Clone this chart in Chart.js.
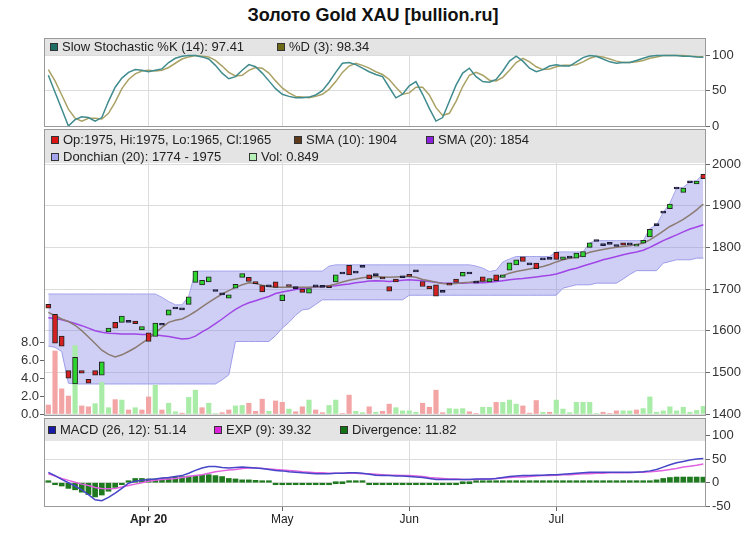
<!DOCTYPE html>
<html>
<head>
<meta charset="utf-8">
<script src="https://cdn.jsdelivr.net/npm/chart.js@4.4.0/dist/chart.umd.min.js"></script>
<style>
  body { margin: 0; background: #fff; width: 746px; height: 535px; overflow: hidden; position: relative; }
  #title { position: absolute; left: 0; top: 4px; width: 746px; text-align: center;
           font: bold 18px "Liberation Sans", Arial, sans-serif; color: #111; line-height: 22px; }
  canvas { position: absolute; left: 0; pointer-events: none; }
</style>
</head>
<body>
<div id="title">Золото Gold XAU [bullion.ru]</div>
<canvas id="stoch" width="746" height="117" style="top:24px"></canvas>
<canvas id="price" width="746" height="315" style="top:115px"></canvas>
<canvas id="macd" width="746" height="131" style="top:404px"></canvas>
<script>
// x axis: one slot per trading day (index 0..98), month gridlines
const monthTickIdx = [15, 35, 54, 76];
const monthTickLabels = ['Apr 20', 'May', 'Jun', 'Jul'];

// Candles
const opens = [1663,1639,1587,1504,1472,1504,1483,1504,1493,1597,1620,1620,1620,1623,1602,1595,1586,1613,1637,1652,
  1650,1663,1716,1710,1717,1694,1686,1678,1702,1728,1728,1717,1708,1705,1717,1672,1708,1701,1700,1690,
  1705,1704,1707,1717,1736,1757,1738,1752,1734,1732,1726,1706,1724,1727,1735,1741,1718,1707,1710,1692,
  1714,1724,1731,1736,1714,1729,1717,1734,1728,1745,1758,1777,1758,1762,1770,1771,1788,1771,1774,1774,
  1777,1800,1814,1804,1807,1802,1811,1806,1803,1810,1825,1852,1882,1893,1940,1932,1955,1952,1975];
const closes = [1654,1570,1563,1486,1536,1498,1474,1493,1525,1606,1606,1635,1620,1617,1610,1574,1618,1613,1650,1652,
  1650,1681,1743,1721,1729,1694,1686,1686,1711,1737,1718,1713,1693,1705,1704,1686,1706,1701,1692,1701,
  1705,1704,1703,1734,1736,1734,1738,1752,1724,1732,1724,1695,1717,1727,1730,1741,1706,1700,1683,1692,
  1709,1716,1740,1736,1714,1718,1725,1720,1734,1763,1770,1766,1758,1749,1770,1771,1771,1777,1774,1786,
  1790,1811,1814,1804,1807,1802,1805,1806,1807,1817,1843,1852,1882,1904,1940,1942,1955,1959,1965];

// Volume (left axis) and its colour flag (1 = up)
const volumes = [1.0,7.0,2.8,2.0,7.6,0.9,0.8,1.15,3.5,0.7,1.6,1.55,0.45,0.7,0.45,1.9,3.2,0.45,1.2,0.25,
  0.1,1.85,2.65,0.7,1.2,0.05,0.15,0.45,0.9,0.95,1.2,0.3,1.65,0.3,1.45,1.3,0.55,0.25,0.8,1.55,
  0.45,0.15,0.95,1.55,0.05,2.1,0.3,0.15,0.8,0.2,0.3,1.1,0.7,0.35,0.35,0.2,1.2,0.75,2.65,0.15,
  0.6,0.55,0.6,0.25,0.05,0.75,0.75,1.3,1.3,1.55,1.1,0.9,0.1,1.5,0.2,0.2,1.55,0.55,0.15,1.3,
  1.3,1.3,0.05,0.2,0.05,0.35,0.35,0.35,0.45,0.6,1.9,0.2,0.35,0.8,0.35,0.75,0.2,0.4,0.85];
const volUp = [0,0,0,0,1,0,0,1,1,1,0,1,0,1,0,0,1,0,1,1, 0,1,1,0,1,1,0,0,1,1,0,0,0,1,0,0,1,0,0,1,
  0,0,1,1,0,0,1,1,0,1,0,0,1,1,1,1,0,0,0,0, 1,1,1,0,0,1,1,0,1,1,1,0,0,0,1,0,1,1,1,1,
  1,1,1,0,0,0,1,1,0,1,1,1,1,1,1,1,1,1,1];

// Donchian (20)
const donUpper = [1688,1688,1688,1688,1688,1688,1688,1688,1688,1688,1688,1688,1688,1688,1688,1688,1688,1680,1670,1662,
  1662,1682,1743,1743,1743,1743,1743,1743,1743,1743,1743,1743,1743,1743,1743,1743,1743,1743,1743,1743,
  1743,1743,1755,1758,1758,1758,1758,1758,1758,1758,1758,1758,1758,1758,1758,1758,1758,1758,1758,1758,
  1758,1758,1758,1758,1755,1750,1742,1745,1765,1772,1778,1778,1778,1778,1778,1778,1789,1789,1789,1789,
  1789,1811,1816,1816,1816,1816,1816,1816,1816,1816,1845,1853,1884,1906,1942,1944,1957,1960,1976];
const donLower = [1563,1560,1550,1474,1472,1472,1472,1472,1472,1472,1472,1472,1472,1472,1472,1472,1472,1472,1472,1472,
  1472,1472,1472,1472,1472,1472,1482,1494,1574,1574,1574,1574,1574,1574,1588,1606,1620,1637,1650,1652,
  1663,1674,1674,1674,1674,1674,1674,1674,1674,1674,1674,1674,1674,1674,1685,1685,1685,1685,1685,1685,
  1685,1685,1685,1685,1685,1685,1685,1685,1685,1685,1685,1685,1685,1685,1685,1685,1685,1702,1706,1710,
  1710,1710,1714,1714,1714,1714,1724,1735,1744,1744,1744,1744,1762,1766,1770,1770,1770,1774,1774];

// Moving averages
const sma10 = [1644,1636,1628,1622,1613,1600,1585,1569,1553,1543,1537,1542,1550,1559,1570,1581,1594,1608,1620,1625,
  1628,1636,1646,1657,1668,1678,1688,1696,1704,1710,1715,1713,1709,1706,1704,1704,1704,1704,1704,1704,
  1705,1706,1708,1712,1717,1721,1724,1727,1729,1730,1729,1728,1729,1730,1730,1728,1723,1720,1716,1713,
  1712,1713,1715,1716,1718,1719,1720,1726,1732,1738,1742,1745,1748,1751,1754,1759,1765,1770,1774,1776,
  1782,1788,1792,1795,1798,1800,1802,1804,1807,1810,1818,1828,1839,1850,1858,1867,1878,1890,1904];
const sma20 = [1631,1629,1626,1622,1617,1612,1606,1600,1596,1594,1593,1592,1592,1592,1591,1591,1590,1588,1586,1583,
  1580,1581,1587,1597,1606,1617,1628,1640,1651,1660,1667,1672,1677,1682,1689,1693,1696,1699,1701,1703,
  1705,1706,1707,1708,1710,1712,1715,1717,1719,1720,1719,1718,1719,1721,1722,1721,1720,1718,1716,1714,
  1714,1714,1714,1715,1715,1715,1716,1718,1720,1722,1724,1725,1727,1729,1731,1733,1736,1741,1746,1750,
  1755,1760,1765,1770,1774,1778,1782,1786,1789,1793,1800,1808,1816,1823,1830,1837,1844,1849,1854];

// Slow stochastic
const stochK = [72,48,24,0,9,13,12,7,12,35,55,68,76,80,79,77,79,81,90,96,
  99,100,100,98,95,86,75,67,70,79,87,84,75,64,53,45,42,40,40,41,
  44,50,62,76,89,90,87,82,77,73,70,55,40,45,57,63,45,25,7,12,
  35,58,75,82,70,63,62,66,78,92,99,92,82,77,80,85,87,85,85,91,
  97,100,99,95,91,89,90,90,93,96,99,100,100,100,100,99,99,98,97.41];
const stochD = [80,64,44,24,11,7,11,11,10,18,34,53,66,74,78,79,78,79,83,89,
  95,98,100,99,98,93,85,76,71,72,79,83,82,75,64,54,47,42,41,40,
  42,45,52,63,76,85,89,86,82,77,73,66,55,45,47,55,55,44,26,15,
  18,35,56,72,76,72,65,64,69,79,90,96,91,84,80,81,84,86,86,87,
  91,96,99,98,95,92,90,90,91,93,96,98,100,100,100,100,99,98.5,98.34];

// MACD
const macdLine = [22,15,7,0,-7,-15,-25,-36,-38,-31,-22,-12,-1,3,5,7,8,10,11,13,
  15,20,26,31,34,34,32,31,32,33,32,31,30,28,26,25,23,22,21,20,
  19,19,19,20,20,21,21,20,18,16,15,15,14,14,13,12,11,9,7,7,
  7,7,7,7,8,8,8,9,11,13,14,15,15,16,16,17,17,18,19,20,
  21,22,22,22,22,22,22,22,22,23,25,28,33,38,42,45,48,50,51.14];
const expLine = [19,14,9,5,1,-3,-6,-10,-12,-13,-12,-9,-6,-3,0,3,5,7,8,9,
  11,13,15,17,20,23,25,27,28,30,31,31,30,29,28,27,26,25,23,22,
  21,21,20,20,20,20,20,19,19,18,17,16,16,15,15,14,13,11,10,9,
  8,8,7,7,7,8,8,9,10,11,12,12,13,14,15,15,16,17,17,18,
  19,19,20,20,21,21,21,21,22,22,23,24,26,28,30,33,35,37,39.32];
const divergence = [1,-3,-7,-12,-15,-20,-25,-30,-26,-18,-10,-3,4,9,9,8,8,9,10,12,
  13,14,15,16,17,15,13,9,8,6,6,5,4,1,-1,-2,-2,-3,-2,-2,
  -1,-1,-1,0,0,1,1,1,-1,-1,-2,-1,-1,-2,-2,-2,-3,-4,-4,-3,
  -2,-1,0,0,1,1,1,1,2,3,4,4,3,3,3,3,3,3,3,3,
  3,3,2,2,2,1,1,1,2,3,4,6,9,11,12,12,12,12,11.82];

const priceTicks = [1400, 1500, 1600, 1700, 1800, 1900, 2000];
const volTicks = [0, 2, 4, 6, 8];
const stochTicks = [0, 50, 100];
const macdTicks = [-50, 0, 50, 100];

const X_MIN = -0.65, X_MAX = 98.4;
const GRID = '#dcdcdc';
const FONT = '"Liberation Sans", Arial, sans-serif';

Chart.defaults.font.family = FONT;
Chart.defaults.font.size = 12;
Chart.defaults.color = '#333';
Chart.defaults.animation = false;

const xy = arr => arr.map((v, i) => ({ x: i, y: v }));

// grey header band with legend entries + frame round the plot
const panelBand = {
  id: 'panelBand',
  beforeDatasetsDraw(chart, args, opts) {
    const { ctx, chartArea: a } = chart;
    ctx.save();
    ctx.fillStyle = '#e4e4e4';
    ctx.fillRect(a.left, a.top, a.right - a.left, opts.height);
    ctx.font = '13px ' + FONT;
    ctx.textBaseline = 'middle';
    opts.items.forEach(it => {
      const y = a.top + it.dy;
      ctx.fillStyle = it.color;
      ctx.fillRect(it.x, Math.round(y - 4), 8, 8);
      ctx.strokeStyle = '#333';
      ctx.lineWidth = 1;
      ctx.strokeRect(it.x + 0.5, Math.round(y - 4) + 0.5, 7, 7);
      ctx.fillStyle = '#222';
      ctx.fillText(it.text, it.x + 12, y + 0.5);
    });
    ctx.restore();
  },
  afterDraw(chart) {
    const { ctx, chartArea: a } = chart;
    ctx.save();
    ctx.strokeStyle = '#9a9a9a';
    ctx.lineWidth = 1;
    ctx.strokeRect(a.left + 0.5, a.top + 0.5, a.right - a.left - 1, a.bottom - a.top - 1);
    ctx.restore();
  }
};

function xAxis(showLabels) {
  return {
    type: 'linear', min: X_MIN, max: X_MAX, offset: false,
    afterBuildTicks: s => { s.ticks = monthTickIdx.map(v => ({ value: v })); },
    afterFit: s => { s.height = showLabels ? 28 : 0; },
    border: { display: false },
    grid: { offset: false, color: GRID, drawTicks: showLabels, tickLength: 4, tickColor: '#666' },
    ticks: {
      display: showLabels, maxRotation: 0, autoSkip: false, padding: 1, color: '#222',
      callback: (v, i) => monthTickLabels[i],
      font: c => ({ size: 12, weight: c.index === 0 ? 'bold' : 'normal' })
    }
  };
}

function rightAxis(min, max, ticks) {
  return {
    position: 'right', min, max,
    afterBuildTicks: s => { s.ticks = ticks.map(v => ({ value: v })); },
    afterFit: s => { s.width = 40; },
    border: { display: false },
    grid: { color: GRID, tickLength: 4, tickColor: '#666' },
    ticks: { padding: 2, font: { size: 13 }, color: '#333', callback: v => String(v) }
  };
}

const lineDs = (data, color, extra) => Object.assign({
  type: 'line', data: xy(data), borderColor: color, borderWidth: 1.5,
  pointRadius: 0, tension: 0, fill: false
}, extra);

// Stochastic panel
new Chart(document.getElementById('stoch'), {
  type: 'line',
  data: {
    datasets: [
      lineDs(stochK, '#3f8b8e', { order: 0 }),
      lineDs(stochD, '#aaa164', { order: 1 })
    ]
  },
  options: {
    responsive: false, devicePixelRatio: 1,
    layout: { padding: { left: 44, right: 0, top: 14, bottom: 14 } },
    plugins: {
      legend: { display: false }, tooltip: { enabled: false },
      panelBand: {
        height: 17,
        items: [
          { x: 50, dy: 9, color: '#1f6e66', text: 'Slow Stochastic %K (14): 97.41' },
          { x: 277, dy: 9, color: '#6e6a18', text: '%D (3): 98.34' }
        ]
      }
    },
    scales: { x: xAxis(false), y: rightAxis(-1.4, 124.8, stochTicks) }
  },
  plugins: [panelBand]
});

// Price panel
const candleColors = opens.map((o, i) => closes[i] > o ? '#2ed42e' : closes[i] < o ? '#d42020' : '#1c1c3a');
const candleBorders = opens.map((o, i) => closes[i] === o ? '#1c1c3a' : '#222');

new Chart(document.getElementById('price'), {
  type: 'line',
  data: {
    datasets: [
      {
        type: 'bar', yAxisID: 'y', order: 0, grouped: false,
        data: opens.map((o, i) => ({ x: i, y: [Math.min(o, closes[i]), Math.max(o, closes[i])] })),
        backgroundColor: candleColors, borderColor: candleBorders, borderWidth: 1,
        borderSkipped: false, barThickness: 5, minBarLength: 2
      },
      lineDs(sma10, '#8c7b72', { yAxisID: 'y', order: 1 }),
      lineDs(sma20, '#a046e6', { yAxisID: 'y', order: 2 }),
      {
        type: 'bar', yAxisID: 'yv', order: 3, grouped: false,
        data: xy(volumes),
        backgroundColor: volUp.map(u => u ? '#a8eca8' : '#f3a4a4'),
        borderWidth: 0, barThickness: 4.5
      },
      lineDs(donUpper, '#a4a4ec', { yAxisID: 'y', order: 4, borderWidth: 1, fill: '+1',
        backgroundColor: 'rgba(130,130,230,0.38)' }),
      lineDs(donLower, '#a4a4ec', { yAxisID: 'y', order: 5, borderWidth: 1 })
    ]
  },
  options: {
    responsive: false, devicePixelRatio: 1,
    layout: { padding: { left: 0, right: 0, top: 14, bottom: 14 } },
    plugins: {
      legend: { display: false }, tooltip: { enabled: false },
      panelBand: {
        height: 34,
        items: [
          { x: 51, dy: 11, color: '#dd1414', text: 'Op:1975, Hi:1975, Lo:1965, Cl:1965' },
          { x: 294, dy: 11, color: '#5e3a1c', text: 'SMA (10): 1904' },
          { x: 426, dy: 11, color: '#8a22dd', text: 'SMA (20): 1854' },
          { x: 51, dy: 27.5, color: '#a4a4ee', text: 'Donchian (20): 1774 - 1975' },
          { x: 249, dy: 27.5, color: '#b6f0b6', text: 'Vol: 0.849' }
        ]
      }
    },
    scales: {
      x: xAxis(false),
      y: rightAxis(1395.2, 2084, priceTicks),
      yv: {
        position: 'left', min: -0.22, max: 31.67,
        afterBuildTicks: s => { s.ticks = volTicks.map(v => ({ value: v })); },
        afterFit: s => { s.width = 44; },
        border: { display: false },
        grid: { drawOnChartArea: false, tickLength: 4, tickColor: '#666' },
        ticks: { padding: 1, font: { size: 13 }, color: '#333', callback: v => v.toFixed(1) }
      }
    }
  },
  plugins: [panelBand]
});

// MACD panel
new Chart(document.getElementById('macd'), {
  type: 'line',
  data: {
    datasets: [
      lineDs(macdLine, '#4646c8', { order: 0 }),
      lineDs(expLine, '#e060e0', { order: 1 }),
      {
        type: 'bar', order: 2, grouped: false, data: xy(divergence),
        backgroundColor: '#1f7a1f', borderWidth: 0, barThickness: 5, minBarLength: 2
      }
    ]
  },
  options: {
    responsive: false, devicePixelRatio: 1,
    layout: { padding: { left: 44, right: 0, top: 14, bottom: 0 } },
    plugins: {
      legend: { display: false }, tooltip: { enabled: false },
      panelBand: {
        height: 23,
        items: [
          { x: 48, dy: 12, color: '#1a1aa8', text: 'MACD (26, 12): 51.14' },
          { x: 214, dy: 12, color: '#dd22dd', text: 'EXP (9): 39.32' },
          { x: 340, dy: 12, color: '#137313', text: 'Divergence: 11.82' }
        ]
      }
    },
    scales: { x: xAxis(true), y: rightAxis(-51.3, 136.7, macdTicks) }
  },
  plugins: [panelBand]
});
</script>
</body>
</html>
